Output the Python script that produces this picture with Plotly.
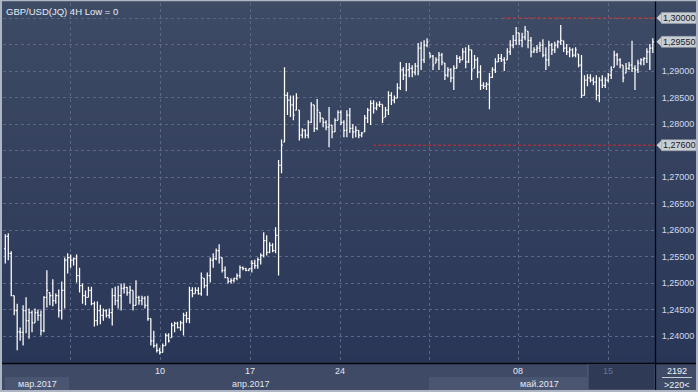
import plotly.graph_objects as go

# ---------------- data (GBP/USD 4H bars) ----------------
high = [
    1.2592, 1.2594, 1.2560, 1.2476, 1.2461, 1.2416, 1.2458, 1.2473, 1.2452, 1.2448,
    1.2452, 1.2450, 1.2448, 1.2475, 1.2524, 1.2482, 1.2507, 1.2480, 1.2488, 1.2503,
    1.2548, 1.2556, 1.2554, 1.2548, 1.2554, 1.2529, 1.2499, 1.2486, 1.2493, 1.2493,
    1.2465, 1.2465, 1.2459, 1.2452, 1.2450, 1.2452, 1.2490, 1.2493, 1.2495, 1.2499,
    1.2499, 1.2493, 1.2495, 1.2486, 1.2505, 1.2476, 1.2476, 1.2475, 1.2476, 1.2433,
    1.2410, 1.2386, 1.2378, 1.2386, 1.2405, 1.2405, 1.2425, 1.2427, 1.2427, 1.2429,
    1.2444, 1.2446, 1.2493, 1.2492, 1.2492, 1.2492, 1.2520, 1.2509, 1.2520, 1.2548,
    1.2556, 1.2565, 1.2573, 1.2548, 1.2531, 1.2510, 1.2509, 1.2510, 1.2518, 1.2533,
    1.2531, 1.2529, 1.2527, 1.2543, 1.2544, 1.2548, 1.2556, 1.2596, 1.2590, 1.2577,
    1.2575, 1.2605, 1.2732, 1.2771, 1.2907, 1.2860, 1.2854, 1.2854, 1.2858, 1.2826,
    1.2792, 1.2790, 1.2807, 1.2841, 1.2836, 1.2847, 1.2822, 1.2811, 1.2807, 1.2832,
    1.2798, 1.2811, 1.2826, 1.2826, 1.2807, 1.2826, 1.2830, 1.2800, 1.2796, 1.2788,
    1.2785, 1.2817, 1.2830, 1.2845, 1.2845, 1.2841, 1.2843, 1.2837, 1.2832, 1.2862,
    1.2860, 1.2854, 1.2877, 1.2917, 1.2907, 1.2915, 1.2915, 1.2911, 1.2915, 1.2953,
    1.2955, 1.2958, 1.2962, 1.2934, 1.2930, 1.2926, 1.2936, 1.2934, 1.2915, 1.2907,
    1.2905, 1.2911, 1.2930, 1.2928, 1.2943, 1.2945, 1.2949, 1.2940, 1.2930, 1.2926,
    1.2911, 1.2879, 1.2879, 1.2896, 1.2907, 1.2924, 1.2932, 1.2932, 1.2926, 1.2943,
    1.2958, 1.2968, 1.2983, 1.2972, 1.2972, 1.2985, 1.2975, 1.2964, 1.2945, 1.2949,
    1.2955, 1.2960, 1.2945, 1.2957, 1.2953, 1.2955, 1.2958, 1.2987, 1.2957, 1.2951,
    1.2945, 1.2943, 1.2945, 1.2932, 1.2930, 1.2892, 1.2894, 1.2894, 1.2888, 1.2892,
    1.2888, 1.2892, 1.2888, 1.2896, 1.2909, 1.2938, 1.2934, 1.2924, 1.2911, 1.2915,
    1.2917, 1.2957, 1.2911, 1.2921, 1.2924, 1.2926, 1.2943, 1.2951, 1.2962,
]
low = [
    1.2537, 1.2543, 1.2475, 1.2439, 1.2373, 1.2391, 1.2382, 1.2405, 1.2395, 1.2407,
    1.2425, 1.2429, 1.2401, 1.2407, 1.2454, 1.2458, 1.2456, 1.2461, 1.2435, 1.2431,
    1.2452, 1.2518, 1.2529, 1.2533, 1.2501, 1.2482, 1.2461, 1.2458, 1.2473, 1.2458,
    1.2418, 1.2420, 1.2422, 1.2429, 1.2435, 1.2433, 1.2420, 1.2458, 1.2452, 1.2448,
    1.2480, 1.2476, 1.2461, 1.2448, 1.2458, 1.2459, 1.2458, 1.2452, 1.2429, 1.2382,
    1.2378, 1.2369, 1.2365, 1.2369, 1.2382, 1.2388, 1.2397, 1.2407, 1.2414, 1.2410,
    1.2401, 1.2425, 1.2424, 1.2473, 1.2480, 1.2478, 1.2476, 1.2490, 1.2476, 1.2501,
    1.2529, 1.2543, 1.2537, 1.2520, 1.2509, 1.2499, 1.2499, 1.2501, 1.2505, 1.2509,
    1.2524, 1.2522, 1.2522, 1.2520, 1.2527, 1.2527, 1.2535, 1.2548, 1.2552, 1.2556,
    1.2558, 1.2556, 1.2514, 1.2707, 1.2766, 1.2817, 1.2813, 1.2807, 1.2826, 1.2769,
    1.2773, 1.2773, 1.2773, 1.2802, 1.2785, 1.2788, 1.2803, 1.2794, 1.2788, 1.2756,
    1.2773, 1.2785, 1.2807, 1.2798, 1.2775, 1.2775, 1.2783, 1.2773, 1.2775, 1.2773,
    1.2775, 1.2785, 1.2802, 1.2798, 1.2820, 1.2826, 1.2832, 1.2802, 1.2813, 1.2817,
    1.2836, 1.2839, 1.2849, 1.2864, 1.2883, 1.2862, 1.2888, 1.2888, 1.2892, 1.2892,
    1.2902, 1.2915, 1.2945, 1.2924, 1.2902, 1.2915, 1.2902, 1.2911, 1.2883, 1.2888,
    1.2879, 1.2864, 1.2905, 1.2915, 1.2921, 1.2905, 1.2915, 1.2883, 1.2905, 1.2887,
    1.2864, 1.2866, 1.2864, 1.2828, 1.2887, 1.2896, 1.2917, 1.2917, 1.2900, 1.2921,
    1.2930, 1.2943, 1.2949, 1.2949, 1.2945, 1.2958, 1.2943, 1.2926, 1.2934, 1.2934,
    1.2936, 1.2926, 1.2902, 1.2909, 1.2930, 1.2934, 1.2943, 1.2949, 1.2936, 1.2930,
    1.2926, 1.2926, 1.2926, 1.2907, 1.2849, 1.2854, 1.2871, 1.2879, 1.2873, 1.2845,
    1.2841, 1.2868, 1.2868, 1.2879, 1.2885, 1.2907, 1.2911, 1.2905, 1.2879, 1.2896,
    1.2902, 1.2898, 1.2864, 1.2896, 1.2911, 1.2911, 1.2915, 1.2902, 1.2934,
]
open_ = [
    1.2565, 1.2588, 1.2556, 1.2476, 1.2448, 1.2408, 1.2407, 1.2448, 1.2429, 1.2444,
    1.2425, 1.2444, 1.2439, 1.2410, 1.2473, 1.2482, 1.2476, 1.2467, 1.2476, 1.2448,
    1.2486, 1.2543, 1.2548, 1.2543, 1.2546, 1.2514, 1.2495, 1.2476, 1.2473, 1.2486,
    1.2461, 1.2429, 1.2448, 1.2439, 1.2448, 1.2439, 1.2444, 1.2476, 1.2467, 1.2476,
    1.2490, 1.2492, 1.2482, 1.2486, 1.2458, 1.2473, 1.2467, 1.2471, 1.2458, 1.2433,
    1.2391, 1.2382, 1.2373, 1.2369, 1.2382, 1.2401, 1.2397, 1.2420, 1.2424, 1.2416,
    1.2425, 1.2439, 1.2433, 1.2486, 1.2480, 1.2486, 1.2480, 1.2509, 1.2495, 1.2514,
    1.2543, 1.2546, 1.2561, 1.2548, 1.2524, 1.2510, 1.2503, 1.2505, 1.2509, 1.2514,
    1.2529, 1.2527, 1.2524, 1.2527, 1.2537, 1.2533, 1.2544, 1.2552, 1.2580, 1.2558,
    1.2571, 1.2561, 1.2590, 1.2722, 1.2766, 1.2854, 1.2845, 1.2836, 1.2826, 1.2826,
    1.2779, 1.2788, 1.2779, 1.2803, 1.2836, 1.2792, 1.2822, 1.2811, 1.2803, 1.2794,
    1.2798, 1.2785, 1.2807, 1.2822, 1.2803, 1.2788, 1.2817, 1.2792, 1.2785, 1.2788,
    1.2779, 1.2785, 1.2811, 1.2826, 1.2839, 1.2830, 1.2836, 1.2837, 1.2813, 1.2826,
    1.2854, 1.2845, 1.2849, 1.2868, 1.2902, 1.2892, 1.2902, 1.2905, 1.2898, 1.2909,
    1.2943, 1.2921, 1.2949, 1.2934, 1.2928, 1.2915, 1.2921, 1.2930, 1.2915, 1.2892,
    1.2902, 1.2887, 1.2905, 1.2924, 1.2921, 1.2936, 1.2917, 1.2940, 1.2905, 1.2921,
    1.2898, 1.2873, 1.2871, 1.2875, 1.2888, 1.2902, 1.2917, 1.2924, 1.2921, 1.2921,
    1.2936, 1.2949, 1.2958, 1.2972, 1.2958, 1.2964, 1.2975, 1.2958, 1.2936, 1.2940,
    1.2943, 1.2949, 1.2930, 1.2921, 1.2949, 1.2940, 1.2949, 1.2955, 1.2957, 1.2943,
    1.2936, 1.2940, 1.2930, 1.2932, 1.2911, 1.2854, 1.2883, 1.2887, 1.2883, 1.2879,
    1.2854, 1.2883, 1.2873, 1.2883, 1.2892, 1.2907, 1.2930, 1.2921, 1.2911, 1.2896,
    1.2905, 1.2911, 1.2905, 1.2902, 1.2915, 1.2921, 1.2924, 1.2936, 1.2943,
]
close = [
    1.2588, 1.2556, 1.2476, 1.2448, 1.2408, 1.2407, 1.2448, 1.2429, 1.2444, 1.2425,
    1.2444, 1.2439, 1.2410, 1.2473, 1.2486, 1.2476, 1.2467, 1.2476, 1.2448, 1.2486,
    1.2543, 1.2548, 1.2543, 1.2546, 1.2514, 1.2495, 1.2476, 1.2473, 1.2486, 1.2461,
    1.2429, 1.2448, 1.2439, 1.2448, 1.2439, 1.2444, 1.2476, 1.2467, 1.2476, 1.2490,
    1.2492, 1.2482, 1.2486, 1.2458, 1.2473, 1.2467, 1.2471, 1.2458, 1.2433, 1.2391,
    1.2382, 1.2373, 1.2369, 1.2382, 1.2401, 1.2391, 1.2420, 1.2424, 1.2416, 1.2425,
    1.2439, 1.2433, 1.2486, 1.2480, 1.2486, 1.2480, 1.2510, 1.2495, 1.2514, 1.2543,
    1.2546, 1.2561, 1.2548, 1.2524, 1.2510, 1.2503, 1.2505, 1.2509, 1.2514, 1.2529,
    1.2527, 1.2524, 1.2527, 1.2537, 1.2533, 1.2544, 1.2552, 1.2580, 1.2558, 1.2571,
    1.2561, 1.2590, 1.2722, 1.2760, 1.2854, 1.2845, 1.2836, 1.2817, 1.2849, 1.2779,
    1.2788, 1.2779, 1.2803, 1.2836, 1.2792, 1.2826, 1.2811, 1.2803, 1.2794, 1.2798,
    1.2785, 1.2807, 1.2822, 1.2803, 1.2788, 1.2817, 1.2792, 1.2785, 1.2788, 1.2779,
    1.2783, 1.2811, 1.2826, 1.2839, 1.2830, 1.2836, 1.2837, 1.2811, 1.2826, 1.2854,
    1.2845, 1.2849, 1.2868, 1.2902, 1.2892, 1.2902, 1.2905, 1.2898, 1.2909, 1.2943,
    1.2921, 1.2949, 1.2955, 1.2928, 1.2911, 1.2921, 1.2930, 1.2917, 1.2892, 1.2902,
    1.2887, 1.2905, 1.2924, 1.2921, 1.2936, 1.2917, 1.2940, 1.2902, 1.2921, 1.2898,
    1.2873, 1.2871, 1.2875, 1.2888, 1.2902, 1.2917, 1.2924, 1.2921, 1.2915, 1.2936,
    1.2949, 1.2958, 1.2972, 1.2958, 1.2964, 1.2977, 1.2958, 1.2936, 1.2940, 1.2943,
    1.2949, 1.2930, 1.2921, 1.2949, 1.2940, 1.2949, 1.2955, 1.2958, 1.2943, 1.2936,
    1.2940, 1.2930, 1.2940, 1.2911, 1.2854, 1.2883, 1.2887, 1.2883, 1.2879, 1.2854,
    1.2883, 1.2873, 1.2883, 1.2892, 1.2902, 1.2930, 1.2921, 1.2911, 1.2887, 1.2905,
    1.2911, 1.2905, 1.2902, 1.2915, 1.2921, 1.2924, 1.2936, 1.2943, 1.2955,
]
bar_index = list(range(1, len(close) + 1))

y_tick_vals = [1.240, 1.245, 1.250, 1.255, 1.260, 1.265, 1.270,
               1.275, 1.280, 1.285, 1.290, 1.295, 1.300]
y_tick_text = ["1,24000", "1,24500", "1,25000", "1,25500", "1,26000", "1,26500", "1,27000",
               "", "1,28000", "1,28500", "1,29000", "", ""]

week_grid_index = [22.8, 53.1, 83.4, 113.7, 143.7, 173.7, 204.0]
week_labels = ["", "10", "17", "24", "", "08", "15"]
month_labels = ["мар.2017", "апр.2017", "май.2017"]
month_label_index = [11.7, 83.4, 181.0]

resistance_level = 1.3000
support_level = 1.2760
resistance_start = 168.6
support_start = 124.8
last_price = close[-1]

title_text = "GBP/USD(JQ) 4H Low = 0"
counter_top = "2192"
counter_bottom = ">220<"

# ---------------- geometry helpers (pixel -> paper) ----------------
W, H = 698, 392
L, R, T, B = 3, 43, 3, 29
PW, PH = W - L - R, H - T - B
X_RANGE = [0.226, 219.74]
Y_RANGE = [1.23491, 1.30283]


def xp(px):
    return (px - L) / PW


def yp(py):
    return (H - B - py) / PH


def idx_to_px(i):
    return L + (i - X_RANGE[0]) / (X_RANGE[1] - X_RANGE[0]) * PW


FONT = "Liberation Sans, Arial, sans-serif"

fig = go.Figure()
fig.add_trace(go.Ohlc(
    x=bar_index, open=open_, high=high, low=low, close=close,
    increasing=dict(line=dict(color="#ffffff", width=1.25)),
    decreasing=dict(line=dict(color="#ffffff", width=1.25)),
    tickwidth=0.4, showlegend=False, hoverinfo="skip",
))

shapes = []
# background gradient (plot + right scale panel)
top_c = (62, 75, 101)
bot_c = (42, 54, 87)
n = 45
for k in range(n):
    f = (k + 0.5) / n
    c = tuple(round(top_c[j] + (bot_c[j] - top_c[j]) * f) for j in range(3))
    y0 = 363 * k / n
    y1 = 363 * (k + 1) / n + 0.6
    shapes.append(dict(type="rect", xref="paper", yref="paper", layer="below",
                       x0=xp(0), x1=xp(W), y0=yp(min(y1, 363)), y1=yp(y0),
                       fillcolor="rgb(%d,%d,%d)" % c, line=dict(width=0)))

# bottom scale band
shapes.append(dict(type="rect", xref="paper", yref="paper", layer="below",
                   x0=xp(0), x1=xp(W), y0=yp(H), y1=yp(363),
                   fillcolor="#3e4a66", line=dict(width=0)))
for (a, b) in [(5, 69), (429, 587)]:
    shapes.append(dict(type="rect", xref="paper", yref="paper", layer="below",
                       x0=xp(a), x1=xp(b), y0=yp(390), y1=yp(377),
                       fillcolor="#4a5671", line=dict(width=0)))
shapes.append(dict(type="rect", xref="paper", yref="paper", layer="below",
                   x0=xp(588), x1=xp(655), y0=yp(390), y1=yp(364),
                   fillcolor="#2e3a56", line=dict(color="#56627c", width=1)))

# dark separators
shapes.append(dict(type="line", xref="paper", yref="paper",
                   x0=xp(655.5), x1=xp(655.5), y0=yp(H), y1=yp(0),
                   line=dict(color="#05070c", width=1.3)))
shapes.append(dict(type="line", xref="paper", yref="paper",
                   x0=xp(0), x1=xp(W), y0=yp(363.5), y1=yp(363.5),
                   line=dict(color="#05070c", width=1.3)))
# counter separator line
shapes.append(dict(type="line", xref="paper", yref="paper",
                   x0=xp(662), x1=xp(692), y0=yp(377.5), y1=yp(377.5),
                   line=dict(color="#c8ced8", width=1)))

# red dashed levels
shapes.append(dict(type="line", xref="x", yref="y",
                   x0=resistance_start, x1=X_RANGE[1], y0=resistance_level, y1=resistance_level,
                   line=dict(color="#d42a2a", width=1, dash="3px,2px")))
shapes.append(dict(type="line", xref="x", yref="y",
                   x0=support_start, x1=X_RANGE[1], y0=support_level, y1=support_level,
                   line=dict(color="#d42a2a", width=1, dash="3px,2px")))

# price tags (arrow + box)
annotations = []
for lvl in [resistance_level, last_price, support_level]:
    py = (Y_RANGE[1] - lvl) / (Y_RANGE[1] - Y_RANGE[0]) * PH + T
    shapes.append(dict(type="path", xref="paper", yref="paper",
                       path="M %f %f L %f %f L %f %f Z" % (
                           xp(656.5), yp(py), xp(662), yp(py - 5.5), xp(662), yp(py + 5.5)),
                       fillcolor="#c9cdd4", line=dict(width=0)))
    shapes.append(dict(type="rect", xref="paper", yref="paper",
                       x0=xp(661.5), x1=xp(696), y0=yp(py + 5.5), y1=yp(py - 5.5),
                       fillcolor="#c9cdd4", line=dict(color="#9aa1ad", width=0.6)))
    txt = ("%.5f" % lvl).replace(".", ",")
    annotations.append(dict(xref="paper", yref="paper", x=xp(679), y=yp(py),
                            xanchor="center", yanchor="middle", showarrow=False,
                            text=txt, font=dict(family=FONT, size=9, color="#141a28")))

# outer light frame
for (x0, x1, y0, y1) in [(0, 2, 0, H), (W - 2, W, 0, H), (0, W, 0, 1.2), (0, W, H - 2, H)]:
    shapes.append(dict(type="rect", xref="paper", yref="paper",
                       x0=xp(x0), x1=xp(x1), y0=yp(y1), y1=yp(y0),
                       fillcolor="#aeb6c4", line=dict(width=0)))

# title
annotations.append(dict(xref="paper", yref="paper", x=xp(4), y=yp(3.5),
                        xanchor="left", yanchor="top", showarrow=False, text=title_text,
                        font=dict(family=FONT, size=9.5, color="#e6ecf6")))

# week tick labels
for i, lab in zip(week_grid_index, week_labels):
    if not lab:
        continue
    col = "#66748f" if lab == "15" else "#e2e8f2"
    annotations.append(dict(xref="paper", yref="paper", x=xp(idx_to_px(i)), y=yp(370.5),
                            xanchor="center", yanchor="middle", showarrow=False, text=lab,
                            font=dict(family=FONT, size=9, color=col)))
# month labels
for i, lab in zip(month_label_index, month_labels):
    annotations.append(dict(xref="paper", yref="paper", x=xp(idx_to_px(i)), y=yp(383.5),
                            xanchor="center", yanchor="middle", showarrow=False, text=lab,
                            font=dict(family=FONT, size=9, color="#e2e8f2")))
# counter box
annotations.append(dict(xref="paper", yref="paper", x=xp(677), y=yp(370.5),
                        xanchor="center", yanchor="middle", showarrow=False, text=counter_top,
                        font=dict(family=FONT, size=9, color="#f0f3f8")))
annotations.append(dict(xref="paper", yref="paper", x=xp(677), y=yp(384.5),
                        xanchor="center", yanchor="middle", showarrow=False, text=counter_bottom,
                        font=dict(family=FONT, size=9, color="#f0f3f8")))

fig.update_layout(
    width=W, height=H,
    margin=dict(l=L, r=R, t=T, b=B, pad=0),
    paper_bgcolor="#3e4a66",
    plot_bgcolor="rgba(0,0,0,0)",
    separators=",.",
    showlegend=False,
    shapes=shapes,
    annotations=annotations,
    font=dict(family=FONT, size=9, color="#d6e2f4"),
    xaxis=dict(range=X_RANGE, rangeslider=dict(visible=False), showticklabels=False,
               tickvals=week_grid_index, showgrid=True, gridcolor="#5b6885",
               griddash="3px,3px", gridwidth=1, zeroline=False, showline=False,
               fixedrange=True),
    yaxis=dict(range=Y_RANGE, side="right", tickvals=y_tick_vals, ticktext=y_tick_text,
               showgrid=True, gridcolor="#5b6885", griddash="3px,3px", gridwidth=1,
               zeroline=False, showline=False, ticks="outside", ticklen=4,
               tickcolor="rgba(0,0,0,0)",
               tickfont=dict(family=FONT, size=9, color="#cfdcf2"), fixedrange=True),
)

fig.write_html(
    "out.html",
    config={"displayModeBar": False},
    post_script="document.body.style.margin='0';document.body.style.overflow='hidden';",
)
